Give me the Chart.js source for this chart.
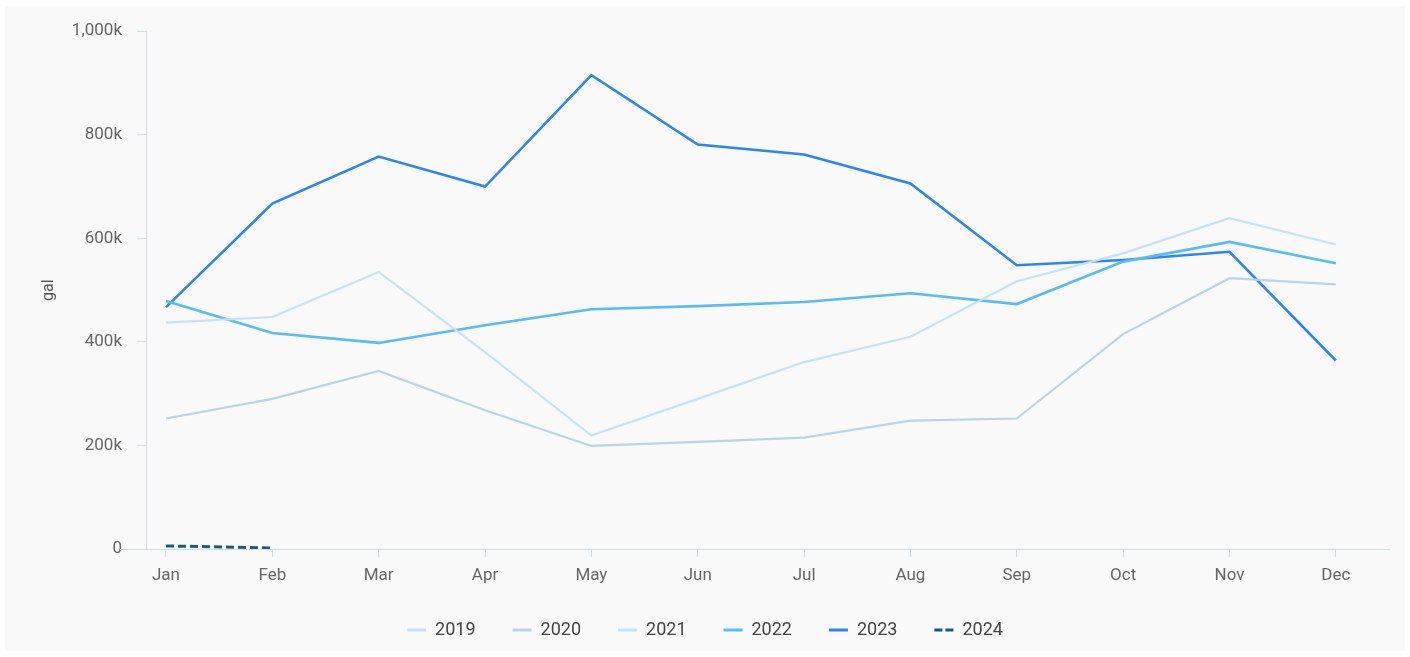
<!DOCTYPE html>
<html>
<head>
<meta charset="utf-8">
<script src="https://cdn.jsdelivr.net/npm/chart.js@4.4.1/dist/chart.umd.min.js"></script>
<style>
  html, body { margin: 0; padding: 0; background: #ffffff; }
  #panel {
    position: absolute;
    left: 5px;
    top: 6px;
    width: 1400px;
    height: 645px;
    background: #f9f9f9;
  }
</style>
</head>
<body>
<div id="panel"><canvas id="chart" width="1400" height="645"></canvas></div>
<script>
const months = ["Jan", "Feb", "Mar", "Apr", "May", "Jun", "Jul", "Aug", "Sep", "Oct", "Nov", "Dec"];
const years = ["2019", "2020", "2021", "2022", "2023", "2024"];

// gallons per month
const gal2019 = [];
const gal2020 = [252000, 290000, 344000, 268000, 199000, 207000, 215000, 248000, 252000, 415000, 523000, 511000];
const gal2021 = [437000, 448000, 535000, 380000, 219000, 290000, 361000, 410000, 517000, 571000, 639000, 588000];
const gal2022 = [479000, 417000, 398000, 432000, 463000, 469000, 477000, 494000, 473000, 555000, 593000, 552000];
const gal2023 = [467000, 667000, 758000, 700000, 915000, 781000, 762000, 706000, 548000, 558000, 574000, 364000];
const gal2024 = [6000, 2000];

const yTicks = [0, 200000, 400000, 600000, 800000, 1000000];

const colors = ["#c4e2ea", "#b8d4e5", "#c4e2fa", "#57bcfb", "#2b86f5", "#1c5a87"];
const widths = [2, 2.2, 2.2, 2.6, 2.6, 3];
const series = [gal2019, gal2020, gal2021, gal2022, gal2023, gal2024];

const axisColor = "#d3dcec";
const tickFont = { family: "Roboto", size: 17 };

function toPoints(values) {
  return values.map((v, i) => ({ x: i, y: v }));
}

// the x axis line runs a bit left past the y axis in the original
const axisStub = {
  id: "axisStub",
  afterDraw(chart) {
    const ctx = chart.ctx;
    const y0 = chart.scales.y.getPixelForValue(0);
    ctx.save();
    ctx.strokeStyle = axisColor;
    ctx.lineWidth = 1;
    ctx.beginPath();
    ctx.moveTo(115, Math.round(y0) + 0.5);
    ctx.lineTo(chart.chartArea.left, Math.round(y0) + 0.5);
    ctx.stroke();
    ctx.restore();
  },
};

const ctx = document.getElementById("chart").getContext("2d");

new Chart(ctx, {
  type: "line",
  data: {
    datasets: years.map((year, i) => ({
      label: year,
      data: toPoints(series[i]),
      borderColor: colors[i],
      backgroundColor: colors[i],
      borderWidth: widths[i],
      borderDash: year === "2024" ? [8, 4] : [],
      pointRadius: 0,
      pointStyle: "line",
      tension: 0,
      fill: false,
    })),
  },
  options: {
    responsive: false,
    animation: false,
    layout: { padding: { top: 23, right: 16, bottom: 2, left: 16 } },
    plugins: {
      tooltip: { enabled: false },
      legend: {
        position: "bottom",
        labels: {
          usePointStyle: true,
          pointStyleWidth: 19,
          padding: 37,
          color: "#444444",
          font: { family: "Roboto", size: 18 },
          generateLabels: (chart) =>
            Chart.defaults.plugins.legend.labels.generateLabels(chart).map((item) => {
              const ds = chart.data.datasets[item.datasetIndex];
              item.lineWidth = 3;
              item.lineDash = ds.borderDash.length ? [8, 3] : [];
              item.strokeStyle = ds.borderColor;
              return item;
            }),
        },
      },
    },
    scales: {
      x: {
        type: "linear",
        min: -0.188,
        max: 11.5,
        afterBuildTicks: (axis) => {
          axis.ticks = months.map((m, i) => ({ value: i }));
        },
        afterFit: (axis) => {
          axis.height = 35;
        },
        ticks: {
          callback: (v) => months[v],
          color: "#666666",
          font: tickFont,
          padding: 9,
          maxRotation: 0,
          autoSkip: false,
        },
        grid: {
          drawOnChartArea: false,
          color: axisColor,
          tickLength: 8,
        },
        border: { color: axisColor, width: 1 },
      },
      y: {
        min: 0,
        max: 1000000,
        afterBuildTicks: (axis) => {
          axis.ticks = yTicks.map((v) => ({ value: v }));
        },
        afterFit: (axis) => {
          axis.width = 125;
        },
        ticks: {
          callback: (v) => (v === 0 ? "0" : (v / 1000).toLocaleString("en-US") + "k"),
          color: "#666666",
          font: tickFont,
          padding: 15,
        },
        grid: {
          drawOnChartArea: false,
          color: axisColor,
          tickLength: 9,
        },
        border: { color: "#d5d7dd", width: 1 },
        title: {
          display: true,
          text: "gal",
          color: "#555555",
          font: { family: "Roboto", size: 16 },
          padding: { top: 18, bottom: 0 },
        },
      },
    },
  },
  plugins: [axisStub],
});
</script>
</body>
</html>
